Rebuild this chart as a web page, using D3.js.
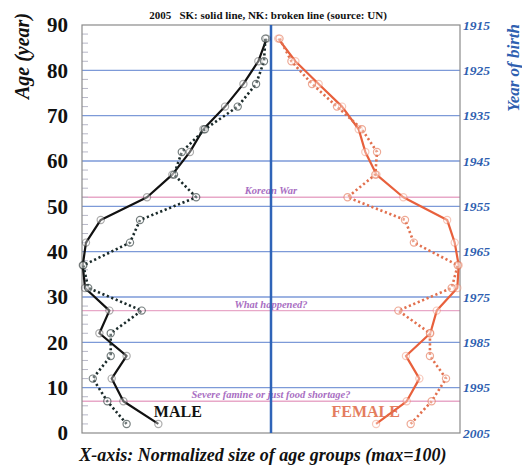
<!DOCTYPE html>
<html><head><meta charset="utf-8">
<script src="https://cdn.jsdelivr.net/npm/d3@7"></script>
<style>
html,body{margin:0;padding:0;background:#fff;}
svg{display:block;font-family:"Liberation Serif","DejaVu Serif",serif;}
</style></head>
<body><svg id="c" width="522" height="468"></svg>
<script>
const ages = [2,7,12,17,22,27,32,37,42,47,52,57,62,67,72,77,82,87];
const maleSK   = [59.6,78.1,84.3,76.4,90.8,85.5,98.4,99.6,97.9,90.1,65.6,52.2,42.9,35.8,24.3,14.6,6.7,2.3];
const maleNK   = [76.4,86.6,94.3,84.8,84.8,68.4,96.7,99.3,74.6,69.3,39.6,51.3,47.2,35.0,17.6,7.9,3.7,3.0];
const femaleSK = [55.6,71.8,78.5,71.4,84.3,87.7,98.6,99.3,97.2,93.2,70.0,55.8,49.9,46.4,37.6,25.2,12.9,3.8];
const femaleNK = [73.9,85.0,92.6,84.1,84.1,67.4,95.6,98.8,75.6,70.9,40.5,55.2,56.1,48.1,34.9,21.7,10.8,4.5];
const ageTicks = [0,10,20,30,40,50,60,70,80,90];
const birthTicks = [1915,1925,1935,1945,1955,1965,1975,1985,1995,2005];
const eventAges = [52,27,7];
const eventLabels = ["Korean War","What happened?","Severe famine or just food shortage?"];
const titleText = "2005   SK: solid line, NK: broken line (source: UN)";

const svg = d3.select("#c");
const L = 82, R = 460, T = 25, B = 433, C = 271;
const y = d3.scaleLinear().domain([0,90]).range([B,T]);
const yb = d3.scaleLinear().domain([2005,1915]).range([B,T]);
const xm = d3.scaleLinear().domain([0,100]).range([C,L]);
const xf = d3.scaleLinear().domain([0,100]).range([C,R]);

// gridlines
svg.append("g").selectAll("line").data(ageTicks.filter(d=>d>0&&d<90)).join("line")
  .attr("x1",L).attr("x2",R).attr("y1",d=>y(d)).attr("y2",d=>y(d))
  .attr("stroke","#7d9ad8").attr("stroke-width",1.4);
// event lines
svg.append("g").selectAll("line").data(eventAges).join("line")
  .attr("x1",L).attr("x2",R).attr("y1",d=>y(d)).attr("y2",d=>y(d))
  .attr("stroke","#e8a8c8").attr("stroke-width",1.4);
// event labels
svg.append("g").selectAll("text").data(eventAges).join("text")
  .attr("x",C).attr("y",d=>y(d)-3).attr("text-anchor","middle")
  .attr("font-size",10.5).attr("font-style","italic").attr("font-weight","bold")
  .attr("fill","#9a55b8").attr("opacity",0.85)
  .text((d,i)=>eventLabels[i]);

// minor ticks on left
svg.append("g").selectAll("line").data(d3.range(0,91,2).filter(d=>d%10!==0)).join("line")
  .attr("x1",L).attr("x2",L+6).attr("y1",d=>y(d)).attr("y2",d=>y(d))
  .attr("stroke","#b8b8c8").attr("stroke-width",1);

// border
svg.append("rect").attr("x",L).attr("y",T).attr("width",R-L).attr("height",B-T)
  .attr("fill","none").attr("stroke","#8a8a8a").attr("stroke-width",1.2);

// center line
svg.append("line").attr("x1",C).attr("x2",C).attr("y1",T).attr("y2",B)
  .attr("stroke","#2f64b8").attr("stroke-width",2.5);

// axes
const axL = svg.append("g").attr("transform",`translate(${L},0)`)
  .call(d3.axisLeft(y).tickValues(ageTicks).tickSize(0).tickPadding(14).tickFormat(d3.format("d")));
axL.select(".domain").remove();
axL.selectAll("text").attr("font-family","'Liberation Serif',serif").attr("font-size",21)
  .attr("font-weight","bold").attr("fill","#111");
const axR = svg.append("g").attr("transform",`translate(${R},0)`)
  .call(d3.axisRight(yb).tickValues(birthTicks).tickSize(0).tickPadding(3).tickFormat(d3.format("d")));
axR.select(".domain").remove();
axR.selectAll("text").attr("font-family","'Liberation Serif',serif").attr("font-size",13.5)
  .attr("font-weight","bold").attr("font-style","italic").attr("fill","#2f5fb0");

// lines
function series(vals, xs, color, dashed){
  const data = ages.map((a,i)=>[a,vals[i]]);
  const line = d3.line().x(d=>xs(d[1])).y(d=>y(d[0]));
  const g = svg.append("g");
  g.append("path").attr("d",line(data)).attr("fill","none").attr("stroke",color)
    .attr("stroke-width",dashed?2.6:2.2)
    .attr("stroke-dasharray",dashed?"2.2,2.6":null)
    .attr("stroke-linejoin","round");
  g.selectAll("circle").data(data).join("circle")
    .attr("cx",d=>xs(d[1])).attr("cy",d=>y(d[0])).attr("r",3.6)
    .attr("fill","rgba(255,255,255,0.35)").attr("stroke",color).attr("stroke-opacity",dashed?0.6:0.35)
    .attr("stroke-width",1.2);
}
series(maleSK, xm, "#111", false);
series(maleNK, xm, "#1a2a2a", true);
series(femaleSK, xf, "#e8603c", false);
series(femaleNK, xf, "#e2704e", true);

// MALE / FEMALE labels
svg.append("text").attr("x",xm(62)).attr("y",y(3.5)).attr("font-size",16).attr("font-weight","bold")
  .attr("fill","#111").text("MALE");
svg.append("text").attr("x",xf(32)).attr("y",y(3.5)).attr("font-size",16).attr("font-weight","bold")
  .attr("fill","#e2704e").attr("opacity",0.9).text("FEMALE");

// title
svg.append("text").attr("x",268).attr("y",19).attr("text-anchor","middle")
  .attr("font-size",11).attr("font-weight","bold").attr("fill","#111")
  .attr("xml:space","preserve").style("white-space","pre").text(titleText);

// axis titles
svg.append("text").attr("transform","translate(29,56) rotate(-90)").attr("text-anchor","middle")
  .attr("font-size",20).attr("font-weight","bold").attr("font-style","italic").attr("fill","#111")
  .text("Age (year)");
svg.append("text").attr("transform","translate(519,24) rotate(-90)").attr("text-anchor","end")
  .attr("font-size",17).attr("font-weight","bold").attr("font-style","italic").attr("fill","#2f5fb0")
  .text("Year of birth");
svg.append("text").attr("x",263).attr("y",461).attr("text-anchor","middle")
  .attr("font-size",18).attr("font-weight","bold").attr("font-style","italic").attr("fill","#111")
  .text("X-axis: Normalized size of age groups (max=100)");
</script></body></html>
